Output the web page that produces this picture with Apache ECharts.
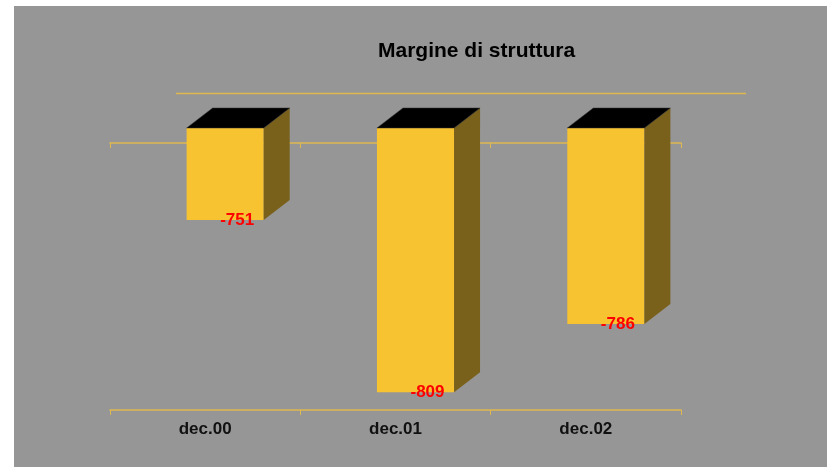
<!DOCTYPE html>
<html>
<head>
<meta charset="utf-8">
<script src="https://cdn.jsdelivr.net/npm/echarts@6/dist/echarts.min.js"></script>
<style>
  html, body { margin: 0; padding: 0; background: #fff; }
  #chart { width: 827px; height: 467px; }
</style>
</head>
<body>
<div id="chart"></div>
<script>
// dati
var categories = ['dec.00', 'dec.01', 'dec.02']
var values = [-751, -809, -786]
var axisMax = -720
var axisMin = -820
var titleText = 'Margine di struttura'

var font = 'Arial, "Liberation Sans", sans-serif'
var lineColor = '#e0b850'
var frontColor = '#f7c331'
var sideColor = '#7a611b'
var depthX = 26
var depthY = 20

var chart = echarts.init(document.getElementById('chart'))

var option = {
  backgroundColor: '#fff',
  animation: false,
  title: {
    text: titleText,
    left: 373,
    top: 36,
    textStyle: { fontFamily: font, fontSize: 21, fontWeight: 'bold', color: '#000' },
  },
  graphic: [
    // sfondo grigio
    { type: 'rect', z: -10, shape: { x: 14, y: 6, width: 813, height: 461 }, style: { fill: '#969696' } },
    // linea parete di fondo
    { type: 'line', z: -5, shape: { x1: 176, y1: 93.5, x2: 746, y2: 93.5 }, style: { stroke: lineColor, lineWidth: 1.5 } },
  ],
  grid: [
    { left: 130, right: 126, top: 128, bottom: 42 },
    { left: 110, right: 146, top: 143, bottom: 57 },
  ],
  xAxis: [
    { gridIndex: 0, type: 'category', data: categories, show: false },
    {
      gridIndex: 1,
      type: 'category',
      data: categories,
      position: 'bottom',
      boundaryGap: true,
      axisLine: { lineStyle: { color: lineColor, width: 1.5 } },
      axisTick: { show: true, length: 5, lineStyle: { color: lineColor } },
      axisLabel: { margin: 11, fontFamily: font, fontSize: 17, fontWeight: 'bold', color: '#111' },
    },
    {
      gridIndex: 1,
      type: 'category',
      data: categories,
      position: 'top',
      boundaryGap: true,
      axisLine: { lineStyle: { color: lineColor, width: 1.5 } },
      axisTick: { show: true, inside: true, length: 5, lineStyle: { color: lineColor } },
      axisLabel: { show: false },
    },
  ],
  yAxis: [
    { gridIndex: 0, type: 'value', min: axisMin, max: axisMax, show: false },
    { gridIndex: 1, type: 'value', show: false, splitLine: { show: false } },
  ],
  series: [
    {
      type: 'custom',
      xAxisIndex: 0,
      yAxisIndex: 0,
      z: 5,
      data: values.map(function (v, i) { return [i, v] }),
      encode: { x: 0, y: 1 },
      renderItem: function (params, api) {
        var i = api.value(0)
        var v = api.value(1)
        var bottom = api.coord([i, v])
        var top = api.coord([i, axisMax])
        var w = api.size([1, 0])[0] * 0.405
        var x0 = bottom[0] - w / 2
        var x1 = bottom[0] + w / 2
        var y0 = top[1]
        var y1 = bottom[1]
        return {
          type: 'group',
          children: [
            { type: 'rect', shape: { x: x0, y: y0, width: w, height: y1 - y0 }, style: { fill: frontColor } },
            {
              type: 'polygon',
              shape: { points: [[x1, y0], [x1 + depthX, y0 - depthY], [x1 + depthX, y1 - depthY], [x1, y1]] },
              style: { fill: sideColor },
            },
            {
              type: 'polygon',
              shape: { points: [[x0, y0], [x1, y0], [x1 + depthX, y0 - depthY], [x0 + depthX, y0 - depthY]] },
              style: { fill: '#000', stroke: '#333', lineWidth: 0.5 },
            },
            {
              type: 'text',
              x: bottom[0] + 12,
              y: y1,
              style: {
                text: String(v),
                fill: '#ff0000',
                fontFamily: font,
                fontSize: 17,
                fontWeight: 'bold',
                align: 'center',
                verticalAlign: 'middle',
              },
            },
          ],
        }
      },
    },
  ],
}

chart.setOption(option, true)
</script>
</body>
</html>
